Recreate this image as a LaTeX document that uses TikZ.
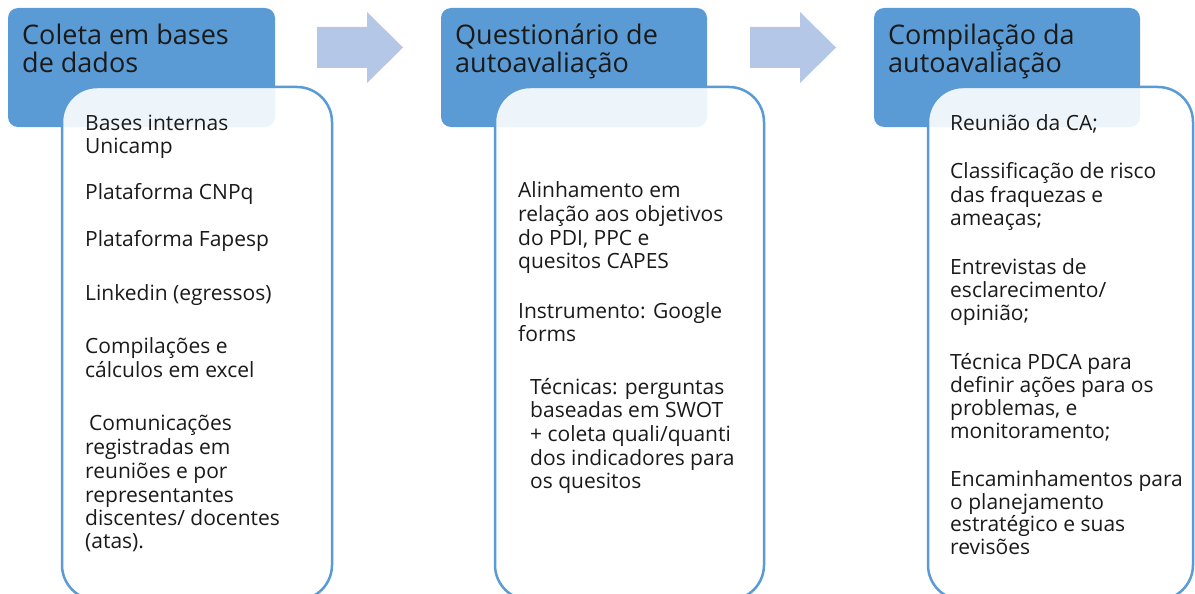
\documentclass[tikz,border=0pt]{standalone}
\usepackage{fontspec}
\setmainfont{Open Sans}
\definecolor{hdrblue}{HTML}{5B9BD5}
\definecolor{arrblue}{HTML}{B4C7E7}
\definecolor{ink}{HTML}{1A1A1A}
\newcommand{\bodyfont}{\fontsize{21}{23}\selectfont}
\newcommand{\hdrfont}{\fontsize{27}{28}\selectfont}
\begin{document}
\begin{tikzpicture}[x=1pt,y=-1pt,
  hdrbox/.style={fill=hdrblue, rounded corners=10pt},
  card/.style={draw=hdrblue, line width=2.5pt, fill=white, fill opacity=0.9, draw opacity=1, rounded corners=35pt},
  blockarrow/.style={fill=arrblue},
  txt/.style={anchor=base west, inner sep=0pt, text=ink, font=\bodyfont},
  htxt/.style={anchor=base west, inner sep=0pt, text=ink, font=\hdrfont}]
\useasboundingbox (0,0) rectangle (1195,594);
\clip (0,0) rectangle (1195,594);

% headers
\fill[hdrbox] (8,8) rectangle (275,127);
\fill[hdrbox] (441,8) rectangle (707,127);
\fill[hdrbox] (874,8) rectangle (1140,127);

% block arrows
\fill[blockarrow] (317,27) -- (367,27) -- (367,12) -- (403,47.5) -- (367,83) -- (367,68) -- (317,68) -- cycle;
\fill[blockarrow] (750,27) -- (800,27) -- (800,12) -- (836,47.5) -- (800,83) -- (800,68) -- (750,68) -- cycle;

% header texts
\node[htxt] (h1a) at (22,45) {Coleta em bases};
\node[htxt] (h1b) at (22,73) {de dados};
\node[htxt] (h2a) at (455,45) {Questionário de};
\node[htxt] (h2b) at (455,73) {autoavaliação};
\node[htxt] (h3a) at (888,45) {Compilação da};
\node[htxt] (h3b) at (888,73) {autoavaliação};

% cards
\path[card] (62,87) rectangle (332,600);
\path[card] (495,87) rectangle (764,600);
\path[card] (928,87) rectangle (1193,600);

% card 1
\node[txt] (a1) at (85,130) {Bases internas};
\node[txt] (a2) at (85,153) {Unicamp};
\node[txt] (a3) at (85,199) {Plataforma CNPq};
\node[txt] (a4) at (85,246) {Plataforma Fapesp};
\node[txt] (a5) at (85,300) {Linkedin (egressos)};
\node[txt] (a6) at (85,353) {Compilações e};
\node[txt] (a7) at (85,377) {cálculos em excel};
\node[txt] (a8) at (89,430) {Comunicações};
\node[txt] (a9) at (85,454) {registradas em};
\node[txt] (a10) at (85,478) {reuniões e por};
\node[txt] (a11) at (85,502) {representantes};
\node[txt] (a12) at (85,525) {discentes/ docentes};
\node[txt] (a13) at (85,548) {(atas).};

% card 2
\node[txt] (b1) at (518,197) {Alinhamento em};
\node[txt] (b2) at (518,221) {relação aos objetivos};
\node[txt] (b3) at (518,245) {do PDI, PPC e};
\node[txt] (b4) at (518,268) {quesitos CAPES};
\node[txt] (b5) at (518,318) {Instrumento: Google};
\node[txt] (b6) at (518,341) {forms};
\node[txt] (b7) at (530,394) {Técnicas: perguntas};
\node[txt] (b8) at (530,417) {baseadas em SWOT};
\node[txt] (b9) at (530,441) {+ coleta quali/quanti};
\node[txt] (b10) at (530,465) {dos indicadores para};
\node[txt] (b11) at (530,488) {os quesitos};

% card 3
\node[txt] (c1) at (950,130) {Reunião da CA;};
\node[txt] (c2) at (950,178) {Classificação de risco};
\node[txt] (c3) at (950,202) {das fraquezas e};
\node[txt] (c4) at (950,225) {ameaças;};
\node[txt] (c5) at (950,274) {Entrevistas de};
\node[txt] (c6) at (950,297) {esclarecimento/};
\node[txt] (c7) at (950,320) {opinião;};
\node[txt] (c8) at (950,369) {Técnica PDCA para};
\node[txt] (c9) at (950,392) {definir ações para os};
\node[txt] (c10) at (950,415) {problemas, e};
\node[txt] (c11) at (950,438) {monitoramento;};
\node[txt] (c12) at (950,486) {Encaminhamentos para};
\node[txt] (c13) at (950,509) {o planejamento};
\node[txt] (c14) at (950,531) {estratégico e suas};
\node[txt] (c15) at (950,554) {revisões};
\end{tikzpicture}
\end{document}
